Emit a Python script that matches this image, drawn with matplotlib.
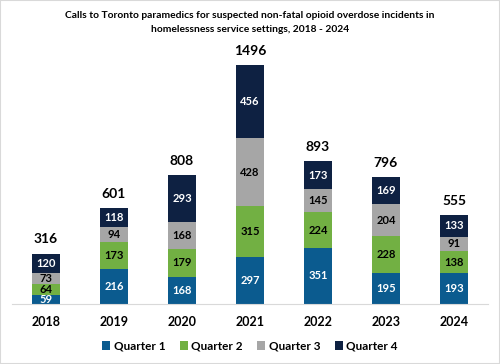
import matplotlib
matplotlib.use("Agg")
import matplotlib.pyplot as plt
from matplotlib.patches import Rectangle
import numpy as np

# Data
years = ['2018', '2019', '2020', '2021', '2022', '2023', '2024']
q1 = [59, 216, 168, 297, 351, 195, 193]
q2 = [64, 173, 179, 315, 224, 228, 138]
q3 = [73, 94, 168, 428, 145, 204, 91]
q4 = [120, 118, 293, 456, 173, 169, 133]

series = [('Quarter 1', q1, '#0B5B8F', 'white'),
          ('Quarter 2', q2, '#72B043', 'black'),
          ('Quarter 3', q3, '#A6A6A6', 'black'),
          ('Quarter 4', q4, '#0E2142', 'white')]

plt.rcParams['font.family'] = ['Lato', 'DejaVu Sans']
plt.rcParams['font.weight'] = 'bold'

fig = plt.figure(figsize=(5, 3.64), dpi=100)
ax = fig.add_axes([12/500, 60/364, 476/500, 259/364])

x = np.arange(len(years))
bottom = np.zeros(len(years))
for name, vals, color, tcolor in series:
    vals = np.array(vals)
    ax.bar(x, vals, width=0.4, bottom=bottom, color=color, label=name)
    for xi, b, v in zip(x, bottom, vals):
        ax.text(xi, b + v / 2, str(v), ha='center', va='center',
                color=tcolor, fontsize=8, fontweight='bold')
    bottom = bottom + vals

for xi, tot in zip(x, bottom):
    ax.text(xi, tot + 88, str(int(tot)), ha='center', va='center',
            fontsize=10, fontweight='bold')

ax.set_xlim(-0.5, 6.5)
ax.set_ylim(0, 1621)
ax.set_yticks([])
ax.set_xticks(x)
ax.set_xticklabels(years, fontsize=9, fontweight='bold')
ax.tick_params(axis='x', length=0, pad=9)
for s in ['top', 'right', 'left']:
    ax.spines[s].set_visible(False)
ax.spines['bottom'].set_color('#D9D9D9')

fig.text(0.5, 1 - 15/364, 'Calls to Toronto paramedics for suspected non-fatal opioid overdose incidents in',
         ha='center', va='center', fontsize=7.4, fontweight='bold')
fig.text(0.5, 1 - 29/364, 'homelessness service settings, 2018 - 2024',
         ha='center', va='center', fontsize=7.4, fontweight='bold')

fig.legend(loc='center', bbox_to_anchor=(0.5, 1 - 346/364), ncol=4, frameon=False,
           fontsize=8.5, handlelength=0.7, handleheight=0.7, handletextpad=0.3,
           columnspacing=1.2)

fig.patches.append(Rectangle((0, 0), 1, 1, transform=fig.transFigure,
                             fill=False, edgecolor='#D9D9D9', linewidth=1.5))

fig.savefig('out.png', dpi=100)
